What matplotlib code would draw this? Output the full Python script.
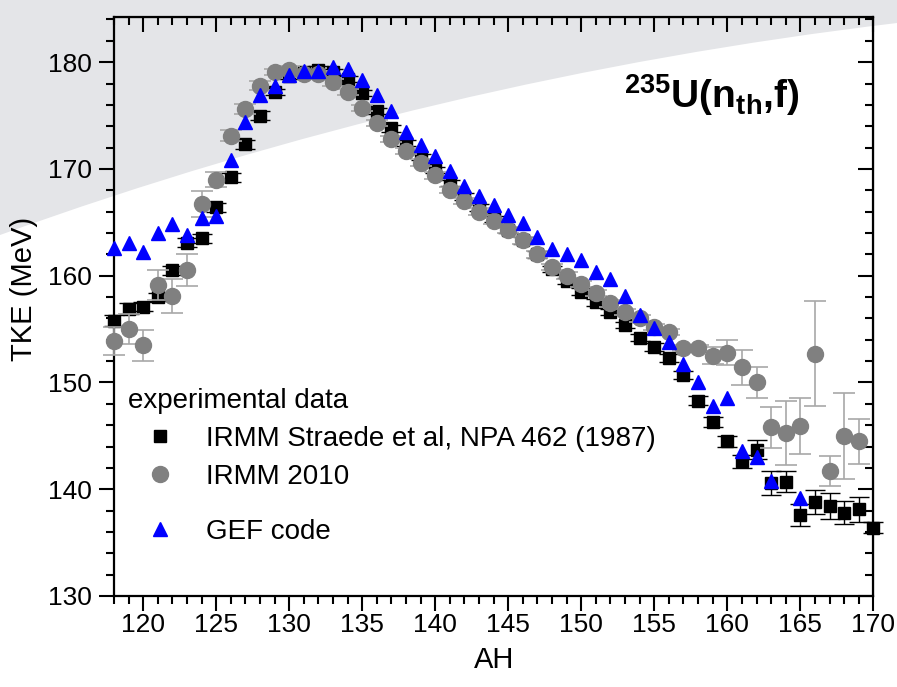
import numpy as np
import matplotlib
matplotlib.use("Agg")
import matplotlib.pyplot as plt
from matplotlib.path import Path
from matplotlib.patches import PathPatch
from matplotlib.lines import Line2D
from matplotlib.ticker import MultipleLocator

plt.rcParams['font.family'] = ['Liberation Sans', 'DejaVu Sans']
plt.rcParams['mathtext.fontset'] = 'custom'
plt.rcParams['mathtext.rm'] = 'Liberation Sans'
plt.rcParams['mathtext.bf'] = 'Liberation Sans:bold'

# --------- data ---------------------------------
ah_straede = list(range(118, 171))
tke_straede = [155.8, 156.9, 157.1, 158.0, 160.5, 163.1, 163.5, 166.4, 169.2, 172.3,
               175.0, 177.2, 178.7, 179.1, 179.3, 179.1, 178.4, 177.1, 175.4, 173.8,
               172.4, 171.1, 169.9, 168.7, 167.4, 166.4, 165.3, 164.3, 163.3, 162.0,
               160.6, 159.5, 158.5, 157.5, 156.6, 155.4, 154.2, 153.3, 152.3, 150.7,
               148.3, 146.3, 144.5, 142.6, 143.7, 140.6, 140.7, 137.6, 138.8, 138.4,
               137.8, 138.1, 136.4]
err_straede = [0.5, 0.5, 0.4, 0.4, 0.4, 0.4, 0.4, 0.4, 0.4, 0.4,
               0.4, 0.3, 0.3, 0.3, 0.3, 0.3, 0.3, 0.3, 0.3, 0.3,
               0.3, 0.3, 0.3, 0.3, 0.3, 0.3, 0.3, 0.3, 0.3, 0.3,
               0.3, 0.3, 0.3, 0.3, 0.3, 0.3, 0.3, 0.4, 0.4, 0.4,
               0.4, 0.5, 0.5, 0.6, 0.9, 1.1, 1.0, 1.05, 1.1, 1.2,
               1.1, 1.2, 0.5]

ah_irmm = list(range(118, 170))
tke_irmm = [153.9, 155.0, 153.5, 159.1, 158.1, 160.5, 166.7, 169.0, 173.1, 175.6,
            177.8, 179.1, 179.3, 178.9, 178.9, 178.1, 177.2, 175.7, 174.3, 172.8,
            171.7, 170.6, 169.4, 168.0, 167.0, 166.0, 165.1, 164.3, 163.3, 162.0,
            160.8, 160.0, 159.2, 158.4, 157.4, 156.6, 156.0, 155.2, 154.7, 153.2,
            153.2, 152.5, 152.8, 151.4, 150.0, 145.8, 145.3, 145.9, 152.7, 141.7,
            145.0, 144.5]
err_irmm = [1.3, 1.4, 1.45, 1.4, 1.6, 1.5, 1.2, 0.7, 0.5, 0.5,
            0.4, 0.3, 0.3, 0.3, 0.3, 0.3, 0.3, 0.3, 0.3, 0.3,
            0.3, 0.3, 0.3, 0.3, 0.3, 0.3, 0.3, 0.3, 0.3, 0.3,
            0.3, 0.3, 0.3, 0.3, 0.3, 0.3, 0.3, 0.3, 0.3, 0.3,
            0.3, 0.8, 1.2, 1.6, 1.45, 1.9, 3.0, 2.6, 4.9, 1.4,
            4.0, 2.1]

ah_gef = list(range(118, 166))
tke_gef = [162.6, 163.1, 162.2, 164.0, 164.8, 163.8, 165.4, 165.6, 170.8, 174.4,
           176.9, 177.8, 178.75, 179.2, 179.2, 179.5, 179.4, 178.35, 176.9, 175.4,
           173.5, 172.2, 171.2, 169.8, 168.4, 167.5, 166.6, 165.7, 164.9, 163.6,
           162.5, 162.0, 161.5, 160.3, 159.7, 158.1, 156.3, 155.1, 153.8, 151.7,
           150.0, 147.8, 148.5, 143.6, 143.0, 140.8, np.nan, 139.2]

fig = plt.figure(figsize=(8.97, 6.87), dpi=100)

# light grey backdrop in the upper left, bounded by a smooth curve (figure fraction)
W, H = 897.0, 687.0
verts = [(0, 1), (1, 1), (1, 1 - 23 / H), (435 / W, 1 - 78 / H), (0, 1 - 235 / H), (0, 1)]
codes = [Path.MOVETO, Path.LINETO, Path.LINETO, Path.CURVE3, Path.CURVE3, Path.CLOSEPOLY]
fig.patches.append(PathPatch(Path(verts, codes), transform=fig.transFigure,
                             facecolor='#e4e5e8', edgecolor='none', zorder=-5))

ax = fig.add_axes([0.1271, 0.1325, 0.8465, 0.8423])
ax.patch.set_alpha(0)

ax.errorbar(ah_straede, tke_straede, yerr=err_straede, fmt='s', color='black',
            ms=9.2, ecolor='black', elinewidth=1, capsize=7.5, capthick=1,
            clip_on=False, zorder=3)
ax.errorbar(ah_irmm, tke_irmm, yerr=err_irmm, fmt='o', color='#808080',
            ms=11.5, ecolor='#a8a8a8', elinewidth=1.2, capsize=8, capthick=1.2,
            clip_on=False, zorder=4)
ax.plot(ah_gef, tke_gef, '^', color='#0000ff', ms=10, clip_on=False, zorder=5)

ax.set_xlim(118, 170)
ax.set_ylim(130, 184.2)
ax.xaxis.set_major_locator(MultipleLocator(5))
ax.xaxis.set_minor_locator(MultipleLocator(1))
ax.yaxis.set_major_locator(MultipleLocator(10))
ax.yaxis.set_minor_locator(MultipleLocator(2))
ax.tick_params(which='major', direction='out', length=11, width=1.5, labelsize=19, pad=5)
ax.tick_params(axis='x', which='major', pad=1)
ax.tick_params(which='minor', direction='out', length=6, width=1.5)
for s in ax.spines.values():
    s.set_linewidth(1.6)

# mirrored inward ticks on top and right
top = ax.secondary_xaxis('top')
right = ax.secondary_yaxis('right')
for sec in (top, right):
    sec.tick_params(which='major', direction='in', length=11, width=1.5, labelsize=0)
    sec.tick_params(which='minor', direction='in', length=6, width=1.5)
top.xaxis.set_major_locator(MultipleLocator(5))
top.xaxis.set_minor_locator(MultipleLocator(1))
right.yaxis.set_major_locator(MultipleLocator(10))
right.yaxis.set_minor_locator(MultipleLocator(2))
top.set_xticklabels([])
right.set_yticklabels([])

ax.set_xlabel("AH", fontsize=21, labelpad=7)
ax.set_ylabel("TKE (MeV)", fontsize=21)
ax.yaxis.set_label_coords(-0.100, 0.53)

ax.text(0.7876, 0.8657, r"$^{\mathbf{235}}$U(n$_{\mathbf{th}}$,f)", transform=ax.transAxes,
        fontsize=28, fontweight='bold', ha='center', va='center')

# legend
h_sq = Line2D([], [], ls='none', marker='s', color='black', ms=9.2)
h_ci = Line2D([], [], ls='none', marker='o', color='#808080', ms=11.5)
h_tr = Line2D([], [], ls='none', marker='^', color='#0000ff', ms=10)
leg1 = ax.legend([h_sq, h_ci], ["IRMM Straede et al, NPA 462 (1987)", "IRMM 2010"],
                 title="experimental data", title_fontsize=20, fontsize=20,
                 loc='upper left', bbox_to_anchor=(0.0184, 0.360), frameon=False,
                 borderpad=0, borderaxespad=0, handlelength=2.3, handletextpad=0.5,
                 labelspacing=0.44, alignment='left')
ax.add_artist(leg1)
ax.legend([h_tr], ["GEF code"], fontsize=20, loc='upper left',
          bbox_to_anchor=(0.0184, 0.133), frameon=False, borderpad=0,
          borderaxespad=0, handlelength=2.3, handletextpad=0.5)

fig.savefig("out.png", dpi=100)
